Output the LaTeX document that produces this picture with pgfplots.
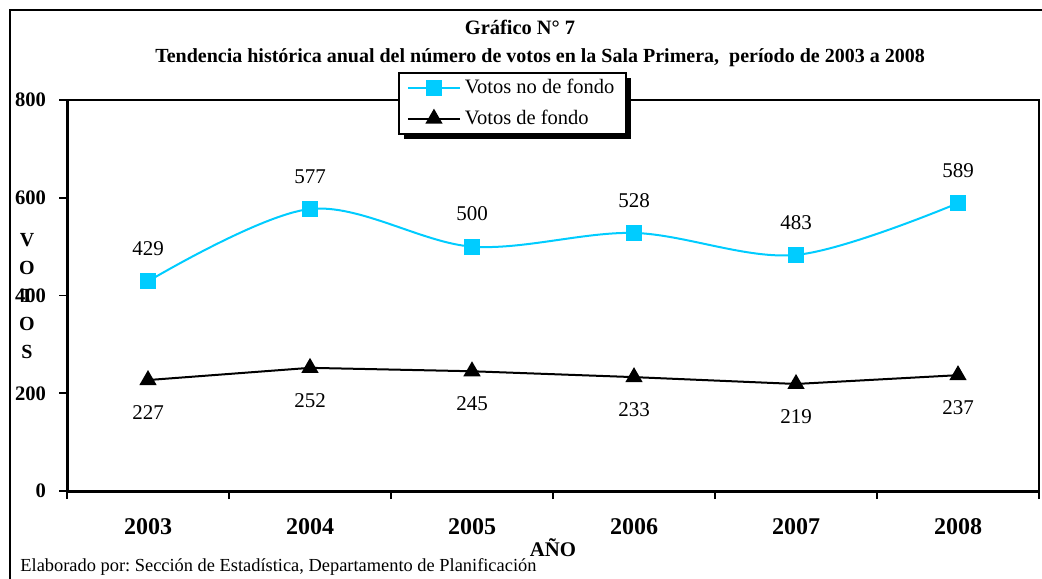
\documentclass[border=0pt]{standalone}
\usepackage{pgfplots}
\pgfplotsset{compat=1.18}
\usepackage{fontspec}
\setmainfont{Liberation Serif}
\usetikzlibrary{shadows}
\definecolor{sky}{RGB}{0,204,255}
\makeatletter
\tikzset{no preactions/.code={\let\tikz@preactions\pgfutil@empty}}
\makeatother
\frenchspacing
\begin{document}
\begin{tikzpicture}
\useasboundingbox (0,0) rectangle (521pt,289pt);
% outer frame (cut by the picture edges)
\draw[line width=1.1pt] (5pt,-2pt) -- (5pt,284pt) -- (523pt,284pt);
\begin{axis}[
  at={(33.5pt,43.5pt)}, anchor=south west, scale only axis,
  width=486pt, height=195.5pt,
  xmin=0.5, xmax=6.5, ymin=0, ymax=800,
  axis x line*=bottom, axis y line*=left,
  axis line style={line width=1.5pt,-},
  xtick={1,...,6}, xticklabels={2003,2004,2005,2006,2007,2008},
  minor xtick={0.5,1.5,...,6.5},
  major x tick style={draw=none},
  ytick={0,200,400,600,800},
  tick align=outside, major tick length=4pt, minor tick length=4pt,
  every tick/.style={black, line width=0.8pt},
  x tick label style={font=\fontsize{12}{14}\selectfont\bfseries, yshift=-6pt},
  y tick label style={font=\fontsize{10.3}{12}\selectfont\bfseries, xshift=-3pt},
  /pgf/number format/assume math mode=true,
  legend style={at={(0.3405,1.0716)}, anchor=north west, draw=black, line width=1pt,
    fill=white, font=\fontsize{10.25}{12}\selectfont, row sep=2.5pt,
    inner xsep=4pt, inner ysep=1.25pt,
    drop shadow={shadow xshift=2.5pt, shadow yshift=-2.5pt, fill=black, opacity=1}},
  legend cell align=left,
  legend image code/.code={
    \draw[no preactions, mark repeat=2, mark phase=2, #1] plot coordinates {(0pt,0pt) (13pt,0pt) (26pt,0pt)};
  },
  clip=false,
]
\draw[line width=0.75pt] (rel axis cs:0,1) -- (rel axis cs:1,1) -- (rel axis cs:1,0);
\addplot[sky, line width=1pt, smooth, tension=0.55, mark=square*, mark size=3.5pt,
  mark options={fill=sky, draw=sky, solid},
  nodes near coords, every node near coord/.append style={black, font=\fontsize{10.5}{12}\selectfont, yshift=9pt}]
  coordinates {(1,429) (2,577) (3,500) (4,528) (5,483) (6,589)};
\addlegendentry{Votos no de fondo}
\addplot[black, line width=1pt, mark=triangle*, mark size=4pt,
  mark options={fill=black, solid},
  nodes near coords, every node near coord/.append style={black, anchor=north, font=\fontsize{10.5}{12}\selectfont, yshift=-9pt}]
  coordinates {(1,227) (2,252) (3,245) (4,233) (5,219) (6,237)};
\addlegendentry{Votos de fondo}
\end{axis}
% titles
\node[font=\fontsize{10.2}{12}\selectfont\bfseries] at (260pt,275.5pt) {Gráfico N° 7};
\node[font=\fontsize{10}{12}\selectfont\bfseries] at (270pt,260pt) {Tendencia histórica anual del número de votos en la Sala Primera,\ \ período de 2003 a 2008};
% axis titles
\node[font=\fontsize{10}{12}\selectfont\bfseries, align=center, inner sep=0pt] at (13.5pt,141pt) {V\\[2pt]O\\[2pt]T\\[2pt]O\\[2pt]S};
\node[font=\fontsize{10.4}{12}\selectfont\bfseries] at (276.5pt,15pt) {AÑO};
% footer
\node[font=\fontsize{9.2}{11}\selectfont, anchor=west, inner sep=0pt] at (10pt,5.5pt) {Elaborado por: Sección de Estadística, Departamento de Planificación};
\end{tikzpicture}
\end{document}
